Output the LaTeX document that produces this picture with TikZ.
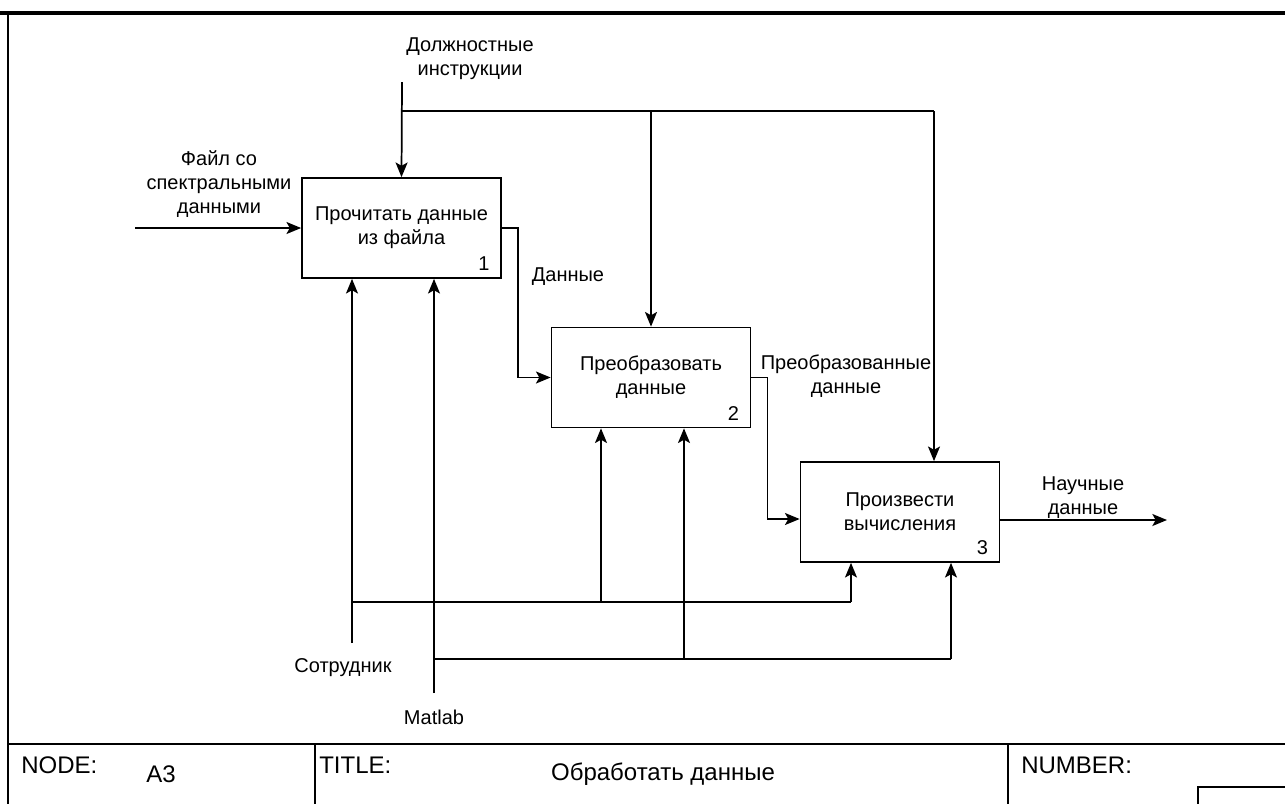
\documentclass[tikz,border=0pt]{standalone}
\usepackage{fontspec}
\setmainfont{Liberation Sans}
\usetikzlibrary{arrows.meta,calc}
\begin{document}
\begin{tikzpicture}[x=0.75pt,y=-0.75pt,
  every node/.style={font=\fontsize{15pt}{18pt}\selectfont},
  func/.style={draw,line width=1.3pt,minimum width=149.25pt,minimum height=75pt,align=center,inner sep=0pt},
  lbl/.style={align=center,inner sep=0pt},
  big/.style={lbl,font=\fontsize{18pt}{21pt}\selectfont},
  arr/.style={line width=1.3pt,-{Stealth[length=11pt,width=9pt,inset=2.5pt]}},
  ln/.style={line width=1.3pt},
  frame/.style={line width=1.1pt}]
\useasboundingbox (0,0) rectangle (1285,804);
% outer frame and title block
\draw[line width=2.4pt] (0,13) -- (1285,13);
\draw[frame] (8,13) -- (8,804);
\draw[frame] (8,744) -- (1285,744);
\draw[frame] (315,744) -- (315,804);
\draw[frame] (1008,744) -- (1008,804);
\draw[frame] (1285,787) -- (1198,787) -- (1198,804);
\node[big,anchor=west] (nodek) at (21,765) {NODE:};
\node[big] (nodev) at (161,774) {A3};
\node[big,anchor=west] (titlek) at (319,765) {TITLE:};
\node[big] (titlev) at (663,774) {Обработать данные};
\node[big,anchor=west] (numk) at (1021,765) {NUMBER:};
% activity boxes
\node[func] (b1) at (401.5,228) {Прочитать данные\\из файла};
\node[func] (b2) at (651,377.5) {Преобразовать\\данные};
\node[func] (b3) at (900,512) {Произвести\\вычисления};
\node[lbl,anchor=south east] (n1) at ($(b1.south east)+(-12,-8)$) {1};
\node[lbl,anchor=south east] (n2) at ($(b2.south east)+(-12,-8)$) {2};
\node[lbl,anchor=south east] (n3) at ($(b3.south east)+(-12,-8)$) {3};
% input
\coordinate (in1) at (135,228);
\node[lbl] (inl) at (219,184) {Файл со\\спектральными\\данными};
\draw[arr] (in1) -- (b1.west);
% control
\node[lbl] (ctl) at (470,59) {Должностные\\инструкции};
\coordinate (c0) at (402,82);
\coordinate (cj) at (402,111);
\coordinate (c2) at (651,111);
\coordinate (c3) at (934,111);
\draw[arr] (c0) -- (b1.north);
\draw[ln] (cj) -- (c3);
\draw[arr] (c2) -- (b2.north);
\draw[arr] (c3) -- (c3 |- b3.north);
% outputs between boxes
\coordinate (o3) at (1167,520);
\draw[arr] (b1.east) -- ++(16,0) |- (b2.west);
\node[lbl] (dl) at (568,277) {Данные};
\draw[arr] (b2.east) -- ++(16,0) |- ($(b3.west)+(0,7)$);
\node[lbl] (pl) at (846,376) {Преобразованные\\данные};
\draw[arr] ($(b3.east)+(0,8)$) -- (o3);
\node[lbl] (sl) at (1083,498) {Научные\\данные};
% mechanisms
\coordinate (m1) at (352,643);
\coordinate (m1j) at (352,602);
\coordinate (m1a) at (601,602);
\coordinate (m1b) at (851,602);
\draw[arr] (m1) -- (m1 |- b1.south);
\draw[ln] (m1j) -- (m1b);
\draw[arr] (m1a) -- (m1a |- b2.south);
\draw[arr] (m1b) -- (m1b |- b3.south);
\node[lbl] (ml1) at (343,668) {Сотрудник};
\coordinate (m2) at (434,693);
\coordinate (m2j) at (434,659);
\coordinate (m2a) at (684,659);
\coordinate (m2b) at (951,659);
\draw[arr] (m2) -- (m2 |- b1.south);
\draw[ln] (m2j) -- (m2b);
\draw[arr] (m2a) -- (m2a |- b2.south);
\draw[arr] (m2b) -- (m2b |- b3.south);
\node[lbl] (ml2) at (434,717) {Matlab};
\end{tikzpicture}
\end{document}
